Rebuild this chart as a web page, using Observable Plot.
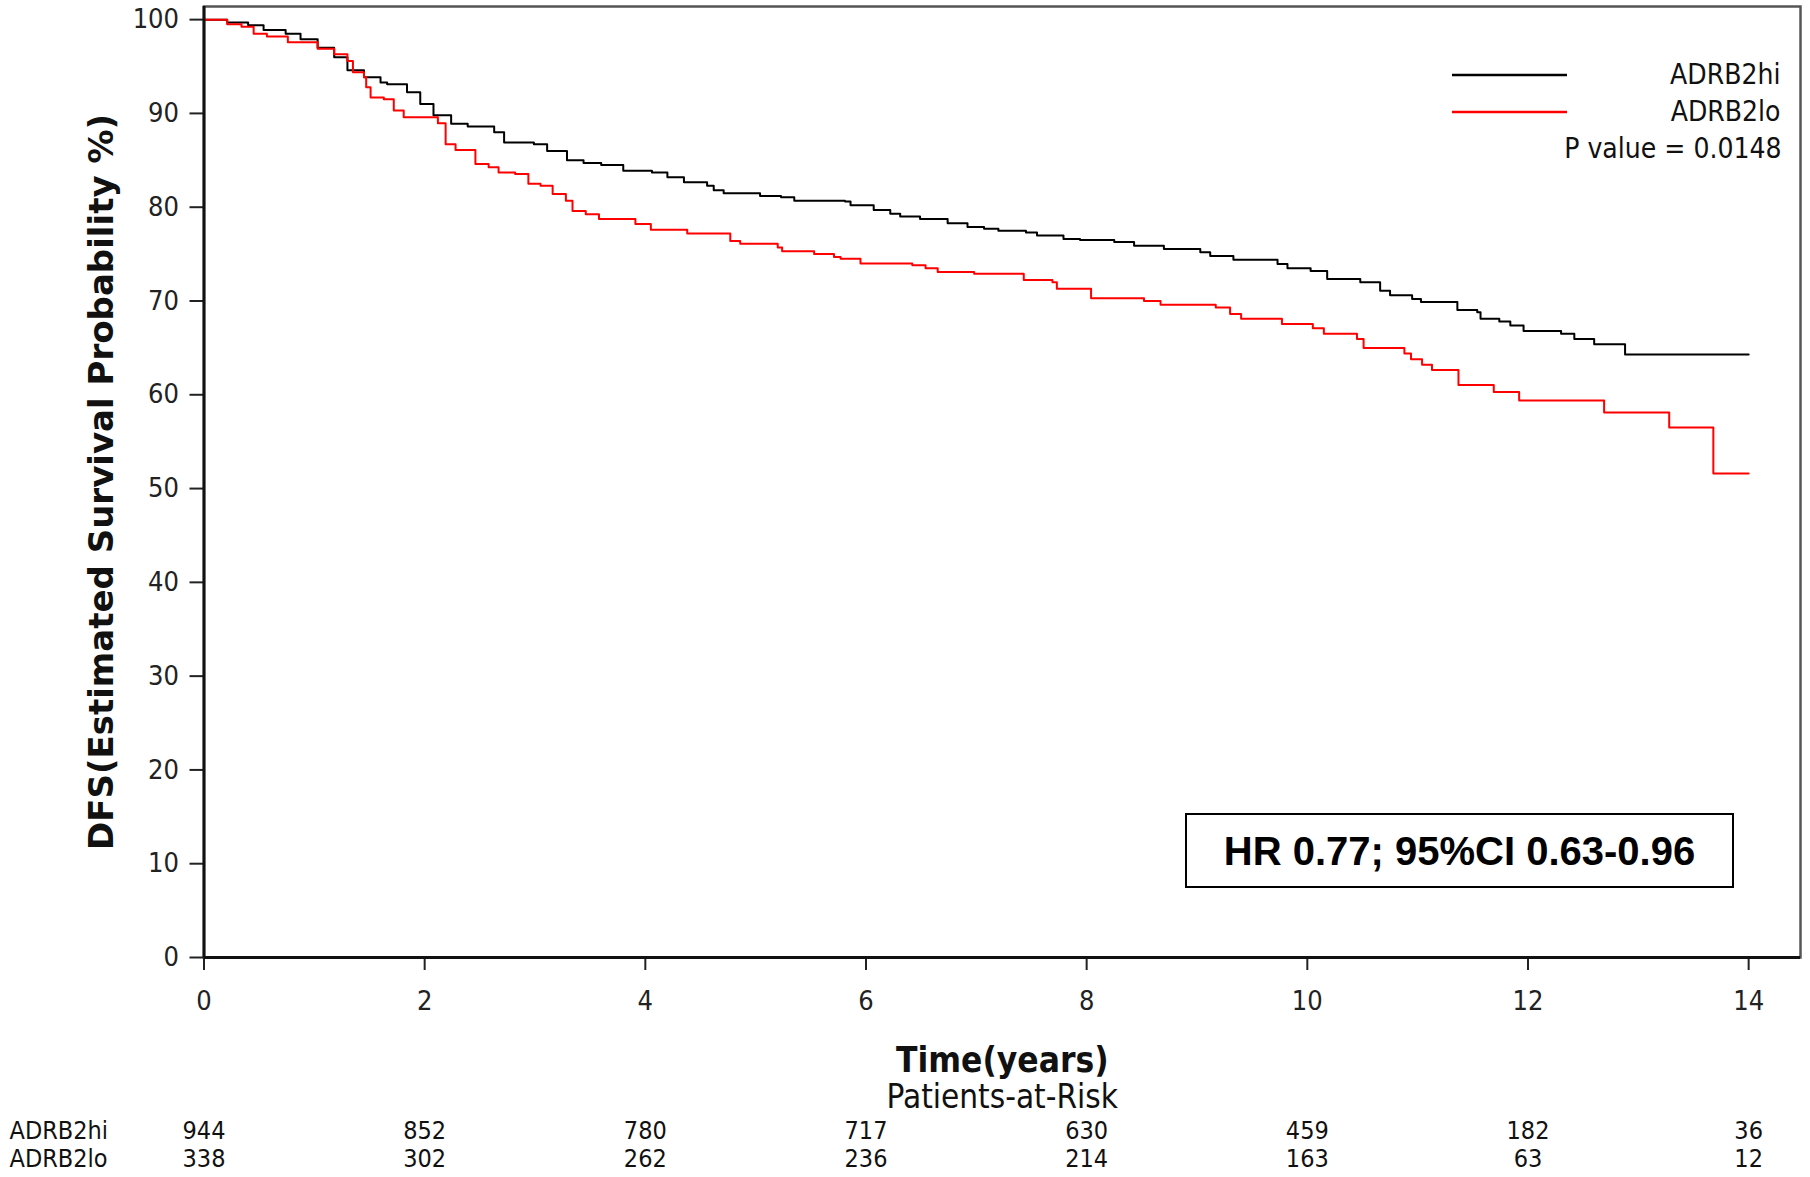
<!DOCTYPE html>
<html>
<head>
<meta charset="utf-8">
<script src="https://cdn.jsdelivr.net/npm/d3@7"></script>
<script src="https://cdn.jsdelivr.net/npm/@observablehq/plot@0.6"></script>
<style>
  html, body { margin: 0; padding: 0; background: #fff; }
  #chart svg { display: block; }
</style>
</head>
<body>
<div id="chart"></div>
<script>
// ---- data ----
const groups = ["ADRB2hi", "ADRB2lo"];
const groupColors = ["#000000", "#ff0000"];

const hiTime = [0, 0.21, 0.40, 0.54, 0.74, 0.875, 1.03, 1.18, 1.30, 1.45, 1.60, 1.66, 1.84, 1.96, 2.08, 2.24, 2.39, 2.63, 2.72, 2.99, 3.11, 3.29, 3.44, 3.60, 3.80, 4.06, 4.20, 4.35, 4.56, 4.62, 4.71, 5.04, 5.23, 5.35, 5.81, 5.86, 6.07, 6.22, 6.31, 6.49, 6.74, 6.92, 7.07, 7.20, 7.45, 7.55, 7.79, 7.94, 8.25, 8.43, 8.70, 9.03, 9.12, 9.33, 9.73, 9.82, 10.03, 10.18, 10.48, 10.66, 10.75, 10.95, 11.03, 11.36, 11.54, 11.57, 11.74, 11.84, 11.96, 12.30, 12.42, 12.60, 12.88, 14.0];
const hiSurv = [100, 99.7, 99.4, 98.9, 98.5, 97.9, 97.0, 96.0, 94.6, 93.85, 93.3, 93.1, 92.25, 91.0, 89.8, 88.9, 88.6, 88.0, 86.9, 86.7, 86.0, 85.0, 84.7, 84.5, 83.9, 83.7, 83.2, 82.65, 82.3, 81.8, 81.5, 81.2, 81.05, 80.7, 80.6, 80.2, 79.7, 79.3, 79.0, 78.75, 78.3, 77.9, 77.7, 77.5, 77.3, 76.97, 76.6, 76.5, 76.3, 75.9, 75.55, 75.2, 74.8, 74.4, 73.95, 73.5, 73.2, 72.35, 72.0, 71.1, 70.6, 70.2, 69.9, 69.05, 68.8, 68.1, 67.8, 67.4, 66.8, 66.5, 65.95, 65.4, 64.3, 64.3];

const loTime = [0, 0.21, 0.34, 0.45, 0.57, 0.76, 1.03, 1.18, 1.30, 1.35, 1.45, 1.47, 1.51, 1.63, 1.72, 1.81, 2.12, 2.19, 2.28, 2.46, 2.58, 2.67, 2.82, 2.94, 3.05, 3.16, 3.28, 3.34, 3.46, 3.58, 3.91, 4.05, 4.38, 4.77, 4.86, 5.20, 5.24, 5.53, 5.71, 5.77, 5.95, 6.42, 6.54, 6.65, 6.98, 7.43, 7.69, 7.73, 8.04, 8.52, 8.67, 9.17, 9.30, 9.40, 9.77, 10.05, 10.15, 10.45, 10.51, 10.88, 10.94, 11.04, 11.13, 11.37, 11.69, 11.92, 12.69, 13.28, 13.68, 14.0];
const loSurv = [100, 99.5, 99.25, 98.5, 98.2, 97.6, 96.9, 96.3, 95.6, 94.4, 93.85, 92.8, 91.7, 91.5, 90.3, 89.6, 88.95, 86.7, 86.1, 84.6, 84.25, 83.7, 83.55, 82.5, 82.3, 81.4, 80.7, 79.6, 79.25, 78.75, 78.2, 77.6, 77.2, 76.4, 76.1, 75.7, 75.3, 75.0, 74.7, 74.5, 74.0, 73.8, 73.5, 73.1, 72.9, 72.25, 72.0, 71.3, 70.3, 70.0, 69.6, 69.3, 68.6, 68.1, 67.55, 67.1, 66.5, 65.95, 65.0, 64.4, 63.8, 63.2, 62.65, 61.05, 60.3, 59.4, 58.1, 56.5, 51.6, 51.6];

const xTicks = [0, 2, 4, 6, 8, 10, 12, 14];
const yTicks = [0, 10, 20, 30, 40, 50, 60, 70, 80, 90, 100];

const riskTimes = [0, 2, 4, 6, 8, 10, 12, 14];
const riskHi = [944, 852, 780, 717, 630, 459, 182, 36];
const riskLo = [338, 302, 262, 236, 214, 163, 63, 12];

const yLabel = "DFS(Estimated Survival Probability %)";
const xLabel = "Time(years)";
const riskTitle = "Patients-at-Risk";
const pText = "P value = 0.0148";
const hrText = "HR 0.77; 95%CI 0.63-0.96";

// ---- tables built from the arrays ----
const survRows = [
  ...hiTime.map((t, i) => ({group: groups[0], t, s: hiSurv[i]})),
  ...loTime.map((t, i) => ({group: groups[1], t, s: loSurv[i]}))
];
const riskRowsHi = riskTimes.map((t, i) => ({t, n: String(riskHi[i])}));
const riskRowsLo = riskTimes.map((t, i) => ({t, n: String(riskLo[i])}));

const narrow = "'Liberation Sans Narrow', 'Arial Narrow', 'DejaVu Sans Condensed', sans-serif";

const chart = Plot.plot({
  width: 1810,
  height: 1177,
  marginLeft: 203.5,
  marginRight: 10,
  marginTop: 6,
  marginBottom: 220,
  x: {domain: [0, 14.47]},
  y: {domain: [0, 101.4]},
  color: {domain: groups, range: groupColors},
  style: {fontFamily: narrow, fontSize: "27px", color: "#222", background: "#fff"},
  marks: [
    Plot.frame({stroke: "#555", strokeWidth: 2.5}),
    Plot.line(survRows, {x: "t", y: "s", z: "group", stroke: "group", curve: "step-after", strokeWidth: 2}),
    Plot.axisX({ticks: xTicks, tickSize: 13, tickPadding: 20, label: null, strokeWidth: 2, fontSize: 27}),
    Plot.axisY({ticks: yTicks, tickSize: 14, tickPadding: 11, label: null, strokeWidth: 2, fontSize: 27}),
    Plot.ruleX([0], {stroke: "#111", strokeWidth: 3}),
    Plot.ruleY([0], {stroke: "#111", strokeWidth: 3}),
    // axis titles
    Plot.text([yLabel], {text: d => d, frameAnchor: "left", rotate: -90, dx: -102, textAnchor: "middle", lineAnchor: "middle", fontFamily: "'DejaVu Sans', sans-serif", fontWeight: "bold", fontSize: 34, fill: "#111"}),
    Plot.text([xLabel], {text: d => d, frameAnchor: "bottom", dy: 103, lineAnchor: "middle", fontWeight: "bold", fontSize: 35, fill: "#111"}),
    Plot.text([riskTitle], {text: d => d, frameAnchor: "bottom", dy: 140, lineAnchor: "middle", fontSize: 33, fill: "#111"}),
    // legend text
    Plot.text([groups[0]], {text: d => d, frameAnchor: "top-right", dx: -20, dy: 69, textAnchor: "end", lineAnchor: "middle", fontSize: 28, fill: "#111"}),
    Plot.text([groups[1]], {text: d => d, frameAnchor: "top-right", dx: -20, dy: 106, textAnchor: "end", lineAnchor: "middle", fontSize: 28, fill: "#111"}),
    Plot.text([pText], {text: d => d, frameAnchor: "top-right", dx: -19, dy: 143, textAnchor: "end", lineAnchor: "middle", fontSize: 28, fill: "#111"}),
    // HR annotation
    Plot.text([hrText], {text: d => d, frameAnchor: "bottom-right", dx: -341, dy: -105, textAnchor: "middle", lineAnchor: "middle", fontFamily: "'Liberation Sans', Arial, sans-serif", fontWeight: "bold", fontSize: 40, fill: "#000"}),
    // patients at risk table
    Plot.text([groups[0]], {text: d => d, frameAnchor: "bottom-left", dx: -194.5, dy: 173, textAnchor: "start", lineAnchor: "middle", fontSize: 25, fill: "#111"}),
    Plot.text([groups[1]], {text: d => d, frameAnchor: "bottom-left", dx: -194.5, dy: 201, textAnchor: "start", lineAnchor: "middle", fontSize: 25, fill: "#111"}),
    Plot.text(riskRowsHi, {x: "t", text: "n", frameAnchor: "bottom", dy: 173, lineAnchor: "middle", fontSize: 25, fill: "#111"}),
    Plot.text(riskRowsLo, {x: "t", text: "n", frameAnchor: "bottom", dy: 201, lineAnchor: "middle", fontSize: 25, fill: "#111"})
  ]
});

// decorations: legend swatches and HR box
const svg = d3.select(chart);
const legend = svg.append("g");
groups.forEach((g, i) => {
  legend.append("line")
    .attr("x1", 1452).attr("x2", 1567)
    .attr("y1", 75 + i * 37).attr("y2", 75 + i * 37)
    .attr("stroke", groupColors[i]).attr("stroke-width", 2.5);
});
svg.append("rect")
  .attr("x", 1186).attr("y", 814).attr("width", 547).attr("height", 73)
  .attr("fill", "none").attr("stroke", "#000").attr("stroke-width", 2);

document.getElementById("chart").appendChild(chart);
</script>
</body>
</html>
